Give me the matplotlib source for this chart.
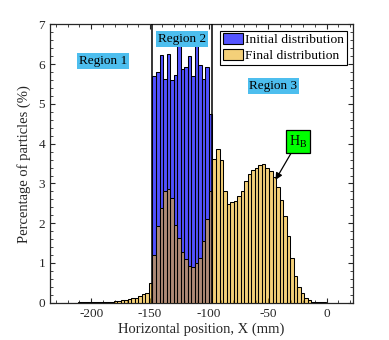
import matplotlib
matplotlib.use("Agg")
import matplotlib.pyplot as plt
import numpy as np
from matplotlib.ticker import MultipleLocator
from matplotlib.patches import Patch

# ---------------- data ----------------
bin_width = 3.0
initial_start = -148.0
initial_pct = [5.71, 5.80, 6.22, 5.63, 6.26, 5.61, 5.72, 6.45, 5.88, 5.92,
               6.20, 5.71, 6.45, 5.99, 5.63, 5.93, 4.75]

final_left_tail = [0.002, 0.003, 0.004, 0.005, 0.005, 0.006, 0.008, 0.01, 0.01,
                   0.01, 0.015, 0.02, 0.02, 0.03, 0.03, 0.04, 0.05, 0.06, 0.07,
                   0.09, 0.11, 0.13, 0.18, 0.21, 0.25, 0.50]
final_overlap = [1.20, 1.93, 2.38, 2.82, 2.86, 2.63, 1.96, 1.62, 1.28, 1.09,
                 0.92, 0.91, 1.01, 1.12, 1.54, 2.11, 2.80]
final_right = [3.61, 3.87, 3.59, 2.81, 2.49, 2.54, 2.56, 2.69, 2.81, 3.05,
               3.23, 3.34, 3.38, 3.47, 3.49, 3.40, 3.32, 3.17, 2.91, 2.59,
               2.19, 1.69, 1.12, 0.68, 0.40, 0.24, 0.13, 0.06, 0.03, 0.02,
               0.01, 0.01, 0.005]
final_pct = final_left_tail + final_overlap + final_right
final_start = initial_start - bin_width * len(final_left_tail)

region_bounds = [-148.0, -97.0]
x_ticks = [-200, -150, -100, -50, 0]
y_ticks = [0, 1, 2, 3, 4, 5, 6, 7]
series_labels = ["Initial distribution", "Final distribution"]

# ---------------- style ----------------
plt.rcParams['font.family'] = ['Liberation Serif', 'DejaVu Serif']
plt.rcParams['axes.unicode_minus'] = False
axcol = (0.15, 0.15, 0.15)
blue = (0.0, 0.0, 1.0)
yellow = (0.929, 0.694, 0.125)
blue_alpha = 0.68
yellow_alpha = 0.6
label_blue = (0.301, 0.745, 0.933)
edge_lw = 0.75

fig = plt.figure(figsize=(3.89, 3.40), dpi=100)
ax = fig.add_axes([0.1285, 0.1097, 0.778, 0.8183])

init_x = initial_start + bin_width * np.arange(len(initial_pct))
final_x = final_start + bin_width * np.arange(len(final_pct))

ax.bar(init_x, initial_pct, width=bin_width, align='edge',
       color=blue, alpha=blue_alpha, edgecolor='none', zorder=2)
ax.bar(init_x, initial_pct, width=bin_width, align='edge',
       facecolor='none', edgecolor='black', linewidth=edge_lw, zorder=2.1)
ax.bar(final_x, final_pct, width=bin_width, align='edge',
       color=yellow, alpha=yellow_alpha, edgecolor='none', zorder=3)
ax.bar(final_x, final_pct, width=bin_width, align='edge',
       facecolor='none', edgecolor='black', linewidth=edge_lw, zorder=3.1)

for xb in region_bounds:
    ax.axvline(xb, color='black', linewidth=1.1, zorder=4)

ax.set_xlim(-235, 22)
ax.set_ylim(0, 7)
ax.set_xticks(x_ticks)
ax.set_yticks(y_ticks)
ax.xaxis.set_minor_locator(MultipleLocator(10))
ax.yaxis.set_minor_locator(MultipleLocator(0.2))
ax.tick_params(which='both', direction='in', top=True, right=True,
               colors=axcol, labelcolor=axcol, labelsize=9.5)
ax.tick_params(which='major', length=3.5, width=0.8)
ax.tick_params(which='minor', length=2, width=0.6)
for s in ax.spines.values():
    s.set_color(axcol)
    s.set_linewidth(0.9)

ax.set_xlabel("Horizontal position, X (mm)", fontsize=10.5, color=axcol, labelpad=2)
ax.set_ylabel("Percentage of particles (%)", fontsize=10.5, color=axcol, labelpad=5)

bbox_r = dict(boxstyle='square,pad=0.15', facecolor=label_blue, edgecolor='none')
ax.text(-190.3, 6.09, "Region 1", ha='center', va='center', fontsize=9.5, bbox=bbox_r, zorder=5)
ax.text(-122.7, 6.63, "Region 2", ha='center', va='center', fontsize=9.5, bbox=bbox_r, zorder=5)
ax.text(-45.2, 5.45, "Region 3", ha='center', va='center', fontsize=9.5, bbox=bbox_r, zorder=5)

ax.annotate(r"H$_\mathregular{B}$", xy=(-43.5, 3.09), xytext=(-24.4, 4.06),
            ha='center', va='center', fontsize=10,
            bbox=dict(boxstyle='square,pad=0.22', facecolor=(0, 1, 0), edgecolor='black', linewidth=0.9),
            arrowprops=dict(arrowstyle='-|>', color='black', lw=0.9, mutation_scale=10,
                            shrinkA=0, shrinkB=0),
            zorder=6)

handles = [Patch(facecolor=(0.33, 0.33, 1.0), edgecolor='black', linewidth=0.8),
           Patch(facecolor=(0.957, 0.816, 0.475), edgecolor='black', linewidth=0.8)]
leg = ax.legend(handles, series_labels, loc='upper right', fontsize=9.7,
                frameon=True, fancybox=False, edgecolor='black', framealpha=1,
                borderpad=0.2, handlelength=1.5, handleheight=0.85,
                handletextpad=0.15, labelspacing=0.2, borderaxespad=0.45)
leg.get_frame().set_linewidth(0.8)
leg.set_zorder(7)

fig.savefig("out.png", dpi=100)
